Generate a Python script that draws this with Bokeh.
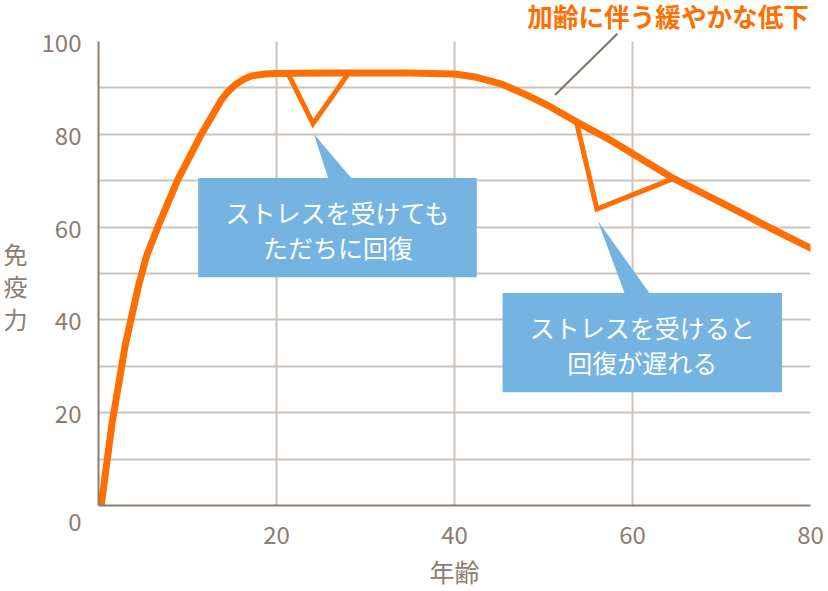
from bokeh.plotting import figure
from bokeh.models import Range1d, FixedTicker, ColumnDataSource
from bokeh.core.properties import value
from bokeh.embed import file_html
from bokeh.resources import INLINE

# ---- data ----
age = [0.3, 1.5, 3.0, 4.5, 5.4, 6.7, 8.9, 11.6, 13.8, 14.55, 15.3, 16.25, 17.2, 18.7, 20.0,
       25.0, 30.0, 35.0, 40.0, 42.5, 45.2, 48.2, 50.8, 53.7, 57.0, 60.5, 64.7, 67.7, 72.0,
       76.0, 80.2]
immunity = [0.0, 17.4, 34.5, 47.4, 53.8, 60.2, 70.2, 80.2, 87.4, 89.2, 90.6, 91.8, 92.6, 93.0,
            93.1, 93.2, 93.2, 93.2, 93.0, 92.3, 90.9, 88.4, 85.9, 82.7, 79.3, 75.3, 70.4, 67.5,
            63.3, 59.3, 55.3]

dip_young_age = [21.3, 24.1, 28.0]
dip_young_imm = [93.1, 82.3, 92.9]
dip_old_age = [53.7, 56.0, 64.5]
dip_old_imm = [82.7, 63.9, 70.4]

x_ticks = [20, 40, 60, 80]
y_ticks = [0, 20, 40, 60, 80, 100]
x_grid = [20, 40, 60]
y_grid = [10, 20, 30, 40, 50, 60, 70, 80, 90]

title_text = "加齢に伴う緩やかな低下"
note_young = ["ストレスを受けても", "ただちに回復"]
note_old = ["ストレスを受けると", "回復が遅れる"]
x_label = "年齢"
y_label_chars = ["免", "疫", "力"]

# ---- styles ----
ORANGE = "#ff6e00"
BLUE = "#75b4e1"
AXIS = "#8b7d71"
GRID = "#cbc4bd"
FONT = "Noto Sans CJK JP"

X_MAX, Y_MAX = 80, 100
Y_TOP = 108.85  # frame extends above the axis so the headline stays inside

p = figure(width=828, height=591, x_range=Range1d(0, X_MAX), y_range=Range1d(0, Y_TOP),
           output_backend="svg", toolbar_location=None,
           min_border_left=97, min_border_right=18, min_border_top=0, min_border_bottom=83)
p.outline_line_color = None
p.background_fill_color = "white"
p.border_fill_color = "white"

p.xaxis.ticker = FixedTicker(ticks=x_ticks)
p.yaxis.ticker = FixedTicker(ticks=y_ticks)
# origin label sits a little below the axis line, as in the original
p.yaxis.major_label_overrides = {0: "\n0"}
p.yaxis.bounds = (0, Y_MAX)
p.xaxis.bounds = (0, X_MAX)
for ax in (p.xaxis[0], p.yaxis[0]):
    ax.axis_line_color = AXIS
    ax.axis_line_width = 2
    ax.major_tick_line_color = None
    ax.minor_tick_line_color = None
    ax.major_tick_out = 0
    ax.major_tick_in = 0
    ax.major_label_text_font = FONT
    ax.major_label_text_font_size = "24px"
    ax.major_label_text_color = AXIS
    ax.axis_label_text_font = FONT
    ax.axis_label_text_font_style = "normal"
    ax.axis_label_text_color = AXIS
p.yaxis.major_label_standoff = 17
p.yaxis.major_label_text_line_height = 0.85
p.xaxis.major_label_standoff = 20
p.xaxis.axis_label = x_label
p.xaxis.axis_label_text_font_size = "25px"
p.xaxis.axis_label_standoff = 6

# vertical stacked y label, pushed down by two empty lines to sit where the original does
p.yaxis.axis_label = "\n\n" + "\n".join(y_label_chars)
p.yaxis.axis_label_orientation = "horizontal"
p.yaxis.axis_label_text_font_size = "24px"
p.yaxis.axis_label_text_line_height = 0.94
p.yaxis.axis_label_standoff = 11

p.xgrid.visible = False
p.ygrid.ticker = FixedTicker(ticks=y_grid)
p.ygrid.grid_line_color = GRID
p.ygrid.grid_line_width = 2
p.segment(x0=x_grid, y0=[0] * len(x_grid), x1=x_grid, y1=[Y_MAX] * len(x_grid),
          line_color=GRID, line_width=2)

# main curve and stress dips
p.line(age, immunity, line_color=ORANGE, line_width=7, line_join="round", line_cap="butt")
p.line(dip_young_age, dip_young_imm, line_color=ORANGE, line_width=5, line_join="miter")
p.line(dip_old_age, dip_old_imm, line_color=ORANGE, line_width=5, line_join="miter")

# callout 1
p.quad(left=[11.2], right=[42.5], top=[70.6], bottom=[49.2], fill_color=BLUE, line_color=None)
p.patch([24.2, 25.8, 28.4], [80.1, 70.6, 70.6], fill_color=BLUE, line_color=None)
# callout 2
p.quad(left=[45.4], right=[76.8], top=[45.8], bottom=[24.4], fill_color=BLUE, line_color=None)
p.patch([56.1, 59.1, 61.9], [61.4, 45.8, 45.8], fill_color=BLUE, line_color=None)

src = ColumnDataSource(dict(
    x=[26.9, 26.9, 61.1, 61.1],
    y=[63.2, 55.7, 38.5, 31.0],
    t=note_young + note_old,
))
p.text(x="x", y="y", text="t", source=src, text_color="white", text_font=value(FONT),
       text_font_size="25px", text_align="center", text_baseline="middle")

# headline + leader line
p.text(x=[64.0], y=[105.6], text=[title_text], text_color=ORANGE, text_font=value(FONT),
       text_font_size="25.6px", text_font_style="bold",
       text_align="center", text_baseline="middle")
p.line([51.3, 58.3], [88.5, 101.7], line_color="#7f7368", line_width=2)

open("out.html", "w").write(file_html(p, INLINE))
